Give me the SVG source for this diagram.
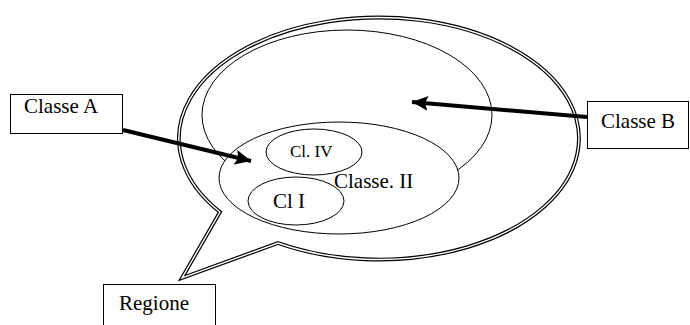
<svg xmlns="http://www.w3.org/2000/svg" width="690" height="325" viewBox="0 0 690 325">
<style>
.t{font-family:"Liberation Serif","Times New Roman",serif;font-size:21px;fill:#000}
.box{fill:#fff;stroke:#000;stroke-width:1}
.ell{fill:#fff;stroke:#000;stroke-width:1}
.conn{stroke:#000;stroke-width:4;fill:none}
</style>
<defs>
<marker id="ah" markerUnits="userSpaceOnUse" markerWidth="18" markerHeight="16" refX="16" refY="7.5" orient="auto">
<path d="M0,0 L16,7.5 L0,15 L3,7.5 Z" fill="#000"/>
</marker>
</defs>
<g id="regione-bubble">
<path d="M220,212 L182,278 L278,243 A200 121 0 1 0 220,212 Z" fill="#fff" stroke="#000" stroke-width="3.8" stroke-linejoin="miter"/>
<path d="M220,212 L182,278 L278,243 A200 121 0 1 0 220,212 Z" fill="none" stroke="#fff" stroke-width="1.4" stroke-linejoin="miter"/>
</g>
<g id="classe-b-region">
<ellipse class="ell" cx="347" cy="115" rx="145" ry="85"/>
</g>
<g id="classe-ii">
<ellipse class="ell" cx="339" cy="178" rx="120" ry="56"/>
<text class="t" x="334" y="188">Classe. II</text>
</g>
<g id="cl-iv">
<ellipse class="ell" cx="314" cy="152" rx="48" ry="23"/>
<text class="t" x="290" y="157" style="font-size:17px">Cl. IV</text>
</g>
<g id="cl-i">
<ellipse class="ell" cx="296" cy="201" rx="48" ry="24"/>
<text class="t" x="273" y="208">Cl I</text>
</g>
<g id="connectors">
<line class="conn" x1="123" y1="130" x2="251" y2="161" marker-end="url(#ah)"/>
<line class="conn" x1="587" y1="117" x2="412" y2="102" marker-end="url(#ah)"/>
</g>
<g id="classe-a">
<rect class="box" x="10.5" y="94.5" width="112" height="39"/>
<text class="t" x="24" y="113">Classe A</text>
</g>
<g id="classe-b">
<rect class="box" x="587.5" y="101.5" width="101" height="47"/>
<text class="t" x="601" y="128">Classe B</text>
</g>
<g id="regione">
<rect class="box" x="103.5" y="284.5" width="112" height="50"/>
<text class="t" x="119" y="310">Regione</text>
</g>
</svg>
